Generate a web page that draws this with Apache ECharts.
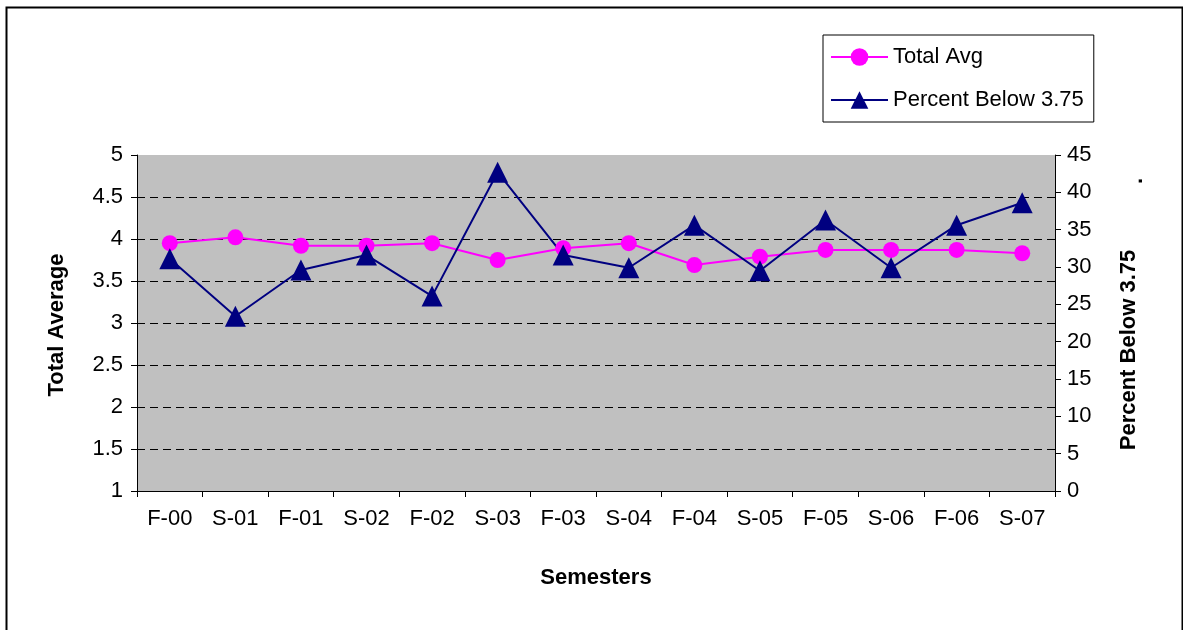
<!DOCTYPE html>
<html>
<head>
<meta charset="utf-8">
<script src="https://cdn.jsdelivr.net/npm/echarts@6/dist/echarts.min.js"></script>
<style>
html,body{margin:0;padding:0;background:#fff;}
#c{width:1183px;height:630px;}
</style>
</head>
<body>
<div id="c"></div>
<script>
const categories = ['F-00','S-01','F-01','S-02','F-02','S-03','F-03','S-04','F-04','S-05','F-05','S-06','F-06','S-07'];
const totalAvg = [3.95, 4.02, 3.92, 3.92, 3.95, 3.75, 3.89, 3.95, 3.69, 3.79, 3.87, 3.87, 3.87, 3.83];
const percentBelow = [31.1, 23.4, 29.6, 31.6, 26.1, 42.7, 31.6, 29.9, 35.6, 29.5, 36.3, 29.9, 35.6, 38.6];
const seriesNames = ['Total Avg', 'Percent Below 3.75'];
const axisTitles = {x: 'Semesters', left: 'Total Average', right: 'Percent Below 3.75'};

const FONT = 'Liberation Sans, Arial, sans-serif';
const chart = echarts.init(document.getElementById('c'), null, {renderer: 'canvas'});
chart.setOption({
  animation: false,
  backgroundColor: '#fff',
  textStyle: {fontFamily: FONT},
  grid: {left: 137, top: 155, width: 918, height: 336, show: true, backgroundColor: '#c0c0c0', borderWidth: 0},
  legend: {
    orient: 'vertical', left: 823, top: 35,
    padding: [11, 10, 11, 7], itemGap: 21,
    itemWidth: 57, itemHeight: 22,
    borderColor: '#000', borderWidth: 1,
    textStyle: {fontSize: 22, color: '#000', fontFamily: FONT},
    data: [seriesNames[0], seriesNames[1]]
  },
  xAxis: {
    type: 'category', data: categories, boundaryGap: true,
    axisLine: {lineStyle: {color: '#000', width: 1}},
    axisTick: {show: true, length: 6, lineStyle: {color: '#000'}},
    axisLabel: {fontSize: 22, color: '#000', margin: 17, interval: 0},
    name: axisTitles.x, nameLocation: 'middle', nameGap: 76,
    nameTextStyle: {fontSize: 22, fontWeight: 'bold', color: '#000'}
  },
  yAxis: [
    {
      type: 'value', min: 1, max: 5, interval: 0.5,
      axisLine: {show: true, lineStyle: {color: '#000'}},
      axisTick: {show: true, length: 6, lineStyle: {color: '#000'}},
      axisLabel: {fontSize: 22, color: '#000', margin: 14},
      splitLine: {show: true, showMinLine: false, showMaxLine: false, lineStyle: {color: '#000', type: [8, 5], width: 1}}
    },
    {
      type: 'value', min: 0, max: 45, interval: 5, position: 'right',
      axisLine: {show: true, lineStyle: {color: '#000'}},
      axisTick: {show: true, length: 6, lineStyle: {color: '#000'}},
      axisLabel: {fontSize: 22, color: '#000', margin: 12},
      splitLine: {show: false}
    }
  ],
  series: [
    {
      name: seriesNames[0], type: 'line', yAxisIndex: 0, data: totalAvg,
      symbol: 'circle', symbolSize: 16,
      lineStyle: {color: '#ff00ff', width: 2},
      itemStyle: {color: '#ff00ff'}
    },
    {
      name: seriesNames[1], type: 'line', yAxisIndex: 1, data: percentBelow,
      symbol: 'triangle', symbolSize: 21,
      lineStyle: {color: '#000080', width: 2},
      itemStyle: {color: '#000080'}
    }
  ],
  graphic: [
    {type: 'rect', left: 4, top: 5, shape: {width: 1176, height: 640}, style: {fill: 'none', stroke: '#000', lineWidth: 2}, silent: true},
    {type: 'text', x: 57, y: 325, rotation: Math.PI / 2, style: {text: axisTitles.left, font: 'bold 22px ' + FONT, fill: '#000', align: 'center', verticalAlign: 'middle'}},
    {type: 'text', x: 1129, y: 350, rotation: Math.PI / 2, style: {text: axisTitles.right, font: 'bold 22px ' + FONT, fill: '#000', align: 'center', verticalAlign: 'middle'}},
    {type: 'text', x: 1136, y: 181, rotation: Math.PI / 2, style: {text: '.', font: 'bold 22px ' + FONT, fill: '#000', align: 'center', verticalAlign: 'middle'}}
  ]
});
</script>
</body>
</html>
